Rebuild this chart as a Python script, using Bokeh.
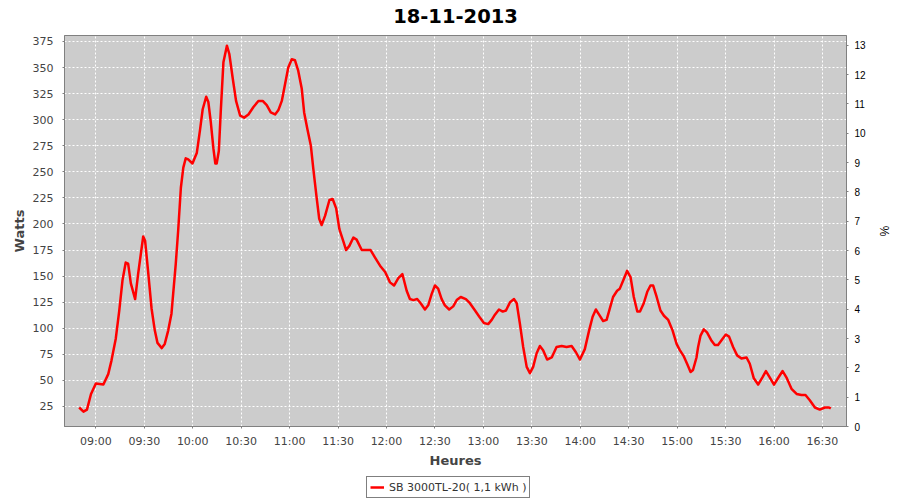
import pandas as pd
from bokeh.plotting import figure
from bokeh.layouts import column
from bokeh.models import (ColumnDataSource, Range1d, LinearAxis, FixedTicker,
                          DatetimeTickFormatter, Legend, LegendItem, Title)
from bokeh.embed import file_html
from bokeh.resources import INLINE

DAY = "2013-11-18"
title_text = "18-11-2013"
series_label = "SB 3000TL-20( 1,1 kWh )"
x_label = "Heures"
y_label = "Watts"
y2_label = "%"

times = ["08:49:40", "08:52:20", "08:54:30", "08:57:00", "09:00:00", "09:04:40", "09:07:40", "09:09:40", "09:12:20", "09:14:30",
         "09:16:30", "09:18:30", "09:20:00", "09:21:40", "09:24:20", "09:26:10", "09:27:50", "09:29:20", "09:30:30", "09:32:20",
         "09:34:30", "09:36:30", "09:38:10", "09:40:50", "09:42:40", "09:44:50", "09:46:50", "09:49:30", "09:51:00", "09:52:40",
         "09:54:10", "09:55:40", "09:57:10", "09:59:50", "10:02:30", "10:04:30", "10:06:10", "10:08:20", "10:09:40", "10:11:10",
         "10:12:50", "10:14:00", "10:14:50", "10:16:10", "10:17:20", "10:19:00", "10:21:10", "10:22:40", "10:24:50", "10:26:50",
         "10:29:20", "10:31:50", "10:34:30", "10:37:30", "10:40:40", "10:43:20", "10:45:50", "10:48:20", "10:51:00", "10:53:00",
         "10:55:10", "10:57:10", "10:59:10", "11:01:20", "11:03:20", "11:05:20", "11:07:30", "11:09:00", "11:11:00", "11:13:10",
         "11:14:40", "11:16:50", "11:18:20", "11:19:50", "11:22:00", "11:24:40", "11:26:40", "11:28:50", "11:30:50", "11:33:20",
         "11:35:00", "11:37:00", "11:39:30", "11:41:30", "11:44:40", "11:48:10", "11:50:10", "11:52:50", "11:56:00", "11:59:10",
         "12:02:10", "12:04:40", "12:07:20", "12:09:50", "12:12:30", "12:14:30", "12:16:40", "12:19:00", "12:21:10", "12:23:50",
         "12:25:50", "12:28:00", "12:30:00", "12:32:00", "12:34:10", "12:36:10", "12:38:50", "12:41:20", "12:43:30", "12:46:00",
         "12:49:10", "12:51:40", "12:54:50", "12:57:30", "13:00:20", "13:03:00", "13:05:10", "13:07:10", "13:09:40", "13:12:00",
         "13:14:00", "13:16:30", "13:19:00", "13:20:40", "13:22:40", "13:24:40", "13:26:50", "13:28:50", "13:30:50", "13:33:00",
         "13:35:00", "13:37:00", "13:39:30", "13:42:20", "13:45:20", "13:48:30", "13:51:30", "13:54:40", "13:57:20", "13:59:50",
         "14:02:50", "14:05:30", "14:07:40", "14:09:40", "14:11:40", "14:14:10", "14:16:20", "14:18:20", "14:20:20", "14:22:50",
         "14:24:30", "14:26:40", "14:29:00", "14:31:10", "14:33:10", "14:35:20", "14:37:00", "14:39:20", "14:41:30", "14:43:30",
         "14:45:10", "14:47:20", "14:49:40", "14:51:50", "14:54:30", "14:57:10", "14:59:40", "15:01:40", "15:04:10", "15:06:10",
         "15:08:20", "15:09:50", "15:12:00", "15:13:00", "15:14:30", "15:16:30", "15:18:30", "15:21:20", "15:23:20", "15:25:20",
         "15:28:10", "15:30:10", "15:32:10", "15:34:40", "15:37:10", "15:39:50", "15:43:00", "15:45:00", "15:47:30", "15:50:10",
         "15:52:50", "15:55:00", "15:57:20", "16:00:00", "16:02:50", "16:05:20", "16:07:40", "16:10:50", "16:14:00", "16:17:00",
         "16:19:30", "16:22:10", "16:25:20", "16:28:20", "16:31:30", "16:34:10", "16:35:10"]

watts = [24, 20, 22, 37, 47, 46, 56, 69, 90, 117,
         146, 163, 162, 143, 128, 152, 171, 188, 184, 155,
         119, 98, 86, 81, 85, 98, 114, 162, 194, 235,
         254, 263, 262, 258, 268, 290, 310, 322, 317, 298,
         272, 258, 258, 270, 307, 355, 371, 363, 339, 318,
         304, 302, 305, 312, 318, 318, 314, 307, 305, 309,
         318, 334, 350, 358, 357, 347, 330, 307, 291, 275,
         253, 224, 205, 199, 208, 223, 224, 215, 195, 183,
         175, 179, 187, 185, 175, 175, 175, 168, 160, 154,
         144, 141, 148, 152, 136, 128, 127, 128, 124, 118,
         122, 133, 141, 138, 128, 122, 118, 121, 127, 130,
         128, 124, 117, 111, 105, 104, 108, 113, 118, 116,
         117, 125, 128, 124, 104, 82, 63, 57, 63, 76,
         83, 79, 70, 72, 82, 83, 82, 83, 77, 70,
         80, 98, 111, 118, 113, 107, 108, 119, 130, 136,
         138, 146, 155, 149, 130, 116, 116, 124, 135, 141,
         141, 130, 117, 112, 108, 98, 85, 79, 73, 66,
         58, 60, 72, 82, 93, 99, 96, 88, 84, 84,
         90, 94, 92, 82, 74, 71, 72, 66, 52, 46,
         53, 59, 53, 46, 53, 59, 53, 42, 37, 36,
         36, 31, 24, 22, 24, 24, 23]

x_tick_labels = ["09:00", "09:30", "10:00", "10:30", "11:00", "11:30", "12:00", "12:30",
                 "13:00", "13:30", "14:00", "14:30", "15:00", "15:30", "16:00", "16:30"]
watt_ticks = [25, 50, 75, 100, 125, 150, 175, 200, 225, 250, 275, 300, 325, 350, 375]
pct_ticks = [0, 1, 2, 3, 4, 5, 6, 7, 8, 9, 10, 11, 12, 13]

x_start, x_end = "08:40:35", "16:44:54"
watt_min, watt_max = 5.8, 380.75
pct_min, pct_max = 0, 13.33

LINE_COLOR = "#ff0000"
LINE_WIDTH = 2.5


def ts(t):
    return pd.Timestamp(f"{DAY} {t}")


def ms(t):
    return ts(t).value // 10**6


src = ColumnDataSource(dict(t=[ts(t) for t in times], w=watts))
x_rng = Range1d(ts(x_start), ts(x_end))

p = figure(frame_width=782, frame_height=391, x_axis_type="datetime",
           output_backend="svg", toolbar_location=None,
           x_range=x_rng, y_range=Range1d(watt_min, watt_max),
           min_border_left=64, min_border_right=54, min_border_top=35, min_border_bottom=50)

spacer = Title(text=" ", text_font_size="1px", standoff=8)
main_title = Title(text=title_text, align="center", offset=-5, standoff=0, vertical_align="top",
                   text_font="DejaVu Sans", text_font_size="19.5px", text_font_style="bold",
                   text_color="black")
p.add_layout(spacer, "above")
p.add_layout(main_title, "above")

p.background_fill_color = "#cccccc"
p.border_fill_color = "white"
p.outline_line_color = "#808080"
p.outline_line_width = 1

p.extra_y_ranges = {"pct": Range1d(pct_min, pct_max)}
ax2 = LinearAxis(y_range_name="pct", axis_label=y2_label)
p.add_layout(ax2, "right")

xax = p.below[0]
yax = p.left[0]

xticker = FixedTicker(ticks=[ms(t) for t in x_tick_labels])
xax.ticker = xticker
p.xgrid.ticker = xticker
fmt = "%H:%M"
xax.formatter = DatetimeTickFormatter(microseconds=fmt, milliseconds=fmt, seconds=fmt, minsec=fmt,
                                      minutes=fmt, hourmin=fmt, hours=fmt, days=fmt, months=fmt, years=fmt)
yticker = FixedTicker(ticks=watt_ticks)
yax.ticker = yticker
p.ygrid.ticker = yticker
ax2.ticker = FixedTicker(ticks=pct_ticks)

for ax in (xax, yax, ax2):
    ax.axis_line_color = "#808080"
    ax.major_tick_line_color = "#808080"
    ax.major_tick_out = 2
    ax.major_tick_in = 0
    ax.minor_tick_out = 0
    ax.minor_tick_in = 0
    ax.minor_tick_line_color = None

for ax in (xax, yax):
    ax.major_label_text_font = "DejaVu Sans"
    ax.major_label_text_font_size = "11px"
    ax.major_label_text_color = "#444444"
    ax.axis_label_text_font = "DejaVu Sans"
    ax.axis_label_text_font_size = "13px"
    ax.axis_label_text_font_style = "bold"
    ax.axis_label_text_color = "#444444"

xax.axis_label = x_label
xax.major_label_standoff = 6
xax.axis_label_standoff = 2
yax.axis_label = y_label
yax.major_label_standoff = 9
yax.axis_label_standoff = 3

ax2.major_label_text_font = "Liberation Sans"
ax2.major_label_text_font_size = "10px"
ax2.major_label_text_color = "black"
ax2.major_label_standoff = 6
ax2.axis_label_text_font = "Liberation Sans"
ax2.axis_label_text_font_size = "12px"
ax2.axis_label_text_font_style = "normal"
ax2.axis_label_text_color = "black"
ax2.axis_label_standoff = 8

for g in (p.xgrid, p.ygrid):
    g.grid_line_color = "white"
    g.grid_line_dash = "2 2"
    g.grid_line_width = 1

p.line("t", "w", source=src, line_color=LINE_COLOR, line_width=LINE_WIDTH, line_join="round")

# legend strip under the chart (JFreeChart-style legend box); its frame is aligned with the chart's
# frame by the column layout. The series is drawn again here only so the legend has a glyph;
# the y range keeps it outside this strip's (clipped) frame.
leg_fig = figure(width=900, height=24, min_border=0, output_backend="svg", toolbar_location=None,
                 x_axis_location=None, y_axis_location=None,
                 x_range=x_rng, y_range=Range1d(-2, -1))
leg_fig.grid.visible = False
leg_fig.outline_line_color = None
leg_fig.background_fill_color = "white"
leg_fig.border_fill_color = "white"
leg_r = leg_fig.line("t", "w", source=src, line_color=LINE_COLOR, line_width=LINE_WIDTH)

legend = Legend(items=[LegendItem(label=series_label, renderers=[leg_r])], location=(302, 2),
                orientation="horizontal", border_line_color="black", border_line_width=1,
                background_fill_color="white", background_fill_alpha=1.0,
                padding=3, margin=0, spacing=0, glyph_width=14, glyph_height=14,
                label_height=14, label_standoff=5, label_text_font="DejaVu Sans",
                label_text_font_size="11px", label_text_color="#333333")
leg_fig.add_layout(legend)

layout = column(p, leg_fig, spacing=0)

open("out.html", "w").write(file_html(layout, INLINE))
